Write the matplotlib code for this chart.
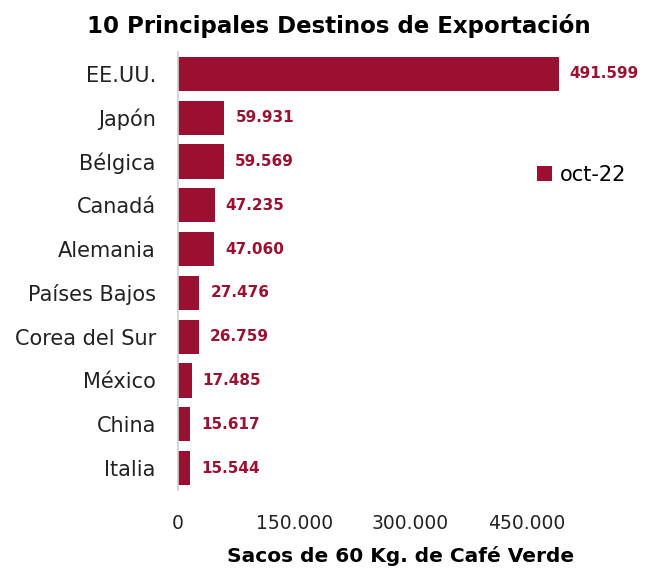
import matplotlib
matplotlib.use("Agg")
import matplotlib.pyplot as plt

countries = ["EE.UU.", "Japón", "Bélgica", "Canadá", "Alemania", "Países Bajos",
             "Corea del Sur", "México", "China", "Italia"]
values = [491599, 59931, 59569, 47235, 47060, 27476, 26759, 17485, 15617, 15544]
labels = ["491.599", "59.931", "59.569", "47.235", "47.060", "27.476", "26.759",
          "17.485", "15.617", "15.544"]
xticks = [0, 150000, 300000, 450000]
xticklabels = ["0", "150.000", "300.000", "450.000"]
series = "oct-22"

color = "#9B1030"
plt.rcParams['font.family'] = ['DejaVu Sans']

fig = plt.figure(figsize=(6.45, 5.69), dpi=100)
ax = fig.add_axes([0.276, 0.139, 0.72, 0.7696])
y = list(range(len(countries)))
ax.barh(y, values, height=0.78, color=color, label=series)
ax.set_ylim(len(countries) - 0.5, -0.5)
ax.set_xlim(0, 600000)
for yi, v, lab in zip(y, values, labels):
    ax.annotate(lab, xy=(v, yi), xytext=(8, 0), textcoords="offset points",
                va="center", ha="left", color=color,
                fontsize=11, fontweight="bold")
ax.set_yticks(y)
ax.set_yticklabels(countries, fontsize=15, color="#222222")
ax.set_xticks(xticks)
ax.set_xticklabels(xticklabels, fontsize=13.5, color="#222222")
ax.tick_params(axis="both", length=0)
ax.tick_params(axis="x", pad=17)
ax.tick_params(axis="y", pad=16)
for s in ["top", "right", "bottom"]:
    ax.spines[s].set_visible(False)
ax.spines["left"].set_color("#d0d0d0")
ax.spines["left"].set_linewidth(1.2)
fig.text(401 / 645, 1 - 556 / 569, "Sacos de 60 Kg. de Café Verde", ha="center",
         va="center", fontsize=14.5, fontweight="bold")
fig.text(0.525, 0.955, "10 Principales Destinos de Exportación", ha="center",
         va="center", fontsize=16.5, fontweight="bold")
leg = ax.legend(loc="center left", bbox_to_anchor=(0.733, 0.719), frameon=False,
                fontsize=15, handlelength=0.7, handleheight=0.7,
                handletextpad=0.4)
fig.savefig("out.png", dpi=100)
